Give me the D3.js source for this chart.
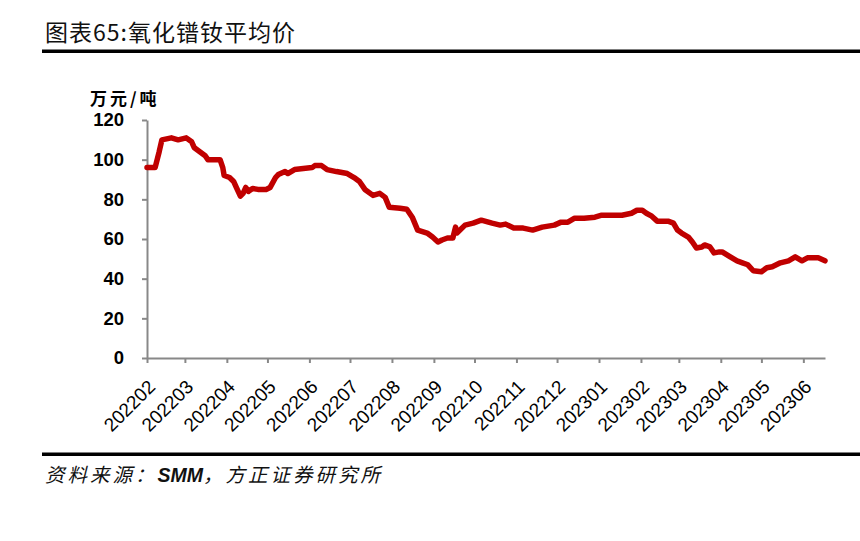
<!DOCTYPE html>
<html><head><meta charset="utf-8">
<script src="https://cdn.jsdelivr.net/npm/d3@7"></script>
<style>
html,body{margin:0;padding:0;background:#fff;}
svg{display:block;}
</style></head>
<body>
<svg id="c" width="860" height="541"></svg>
<script>
const titleText = "图表65:氧化镨钕平均价";
const unitText = "万元/吨";
const sourceParts = ["资料来源：", "SMM", "，方正证券研究所"];
const yTicks = [0, 20, 40, 60, 80, 100, 120];
const xTickMonths = ["2022-02-01","2022-03-01","2022-04-01","2022-05-01","2022-06-01","2022-07-01","2022-08-01","2022-09-01","2022-10-01","2022-11-01","2022-12-01","2023-01-01","2023-02-01","2023-03-01","2023-04-01","2023-05-01","2023-06-01"];
const dates = ["2022-02-01","2022-02-07","2022-02-10","2022-02-12","2022-02-19","2022-02-24","2022-03-02","2022-03-06","2022-03-08","2022-03-12","2022-03-16","2022-03-18","2022-03-27","2022-03-29","2022-03-30","2022-04-03","2022-04-06","2022-04-08","2022-04-11","2022-04-13","2022-04-15","2022-04-17","2022-04-20","2022-04-24","2022-04-30","2022-05-03","2022-05-07","2022-05-09","2022-05-14","2022-05-16","2022-05-21","2022-06-03","2022-06-05","2022-06-10","2022-06-14","2022-06-21","2022-06-29","2022-07-04","2022-07-08","2022-07-12","2022-07-18","2022-07-23","2022-07-27","2022-07-30","2022-08-07","2022-08-12","2022-08-16","2022-08-20","2022-08-27","2022-08-31","2022-09-04","2022-09-07","2022-09-11","2022-09-15","2022-09-17","2022-09-18","2022-09-24","2022-09-30","2022-10-06","2022-10-14","2022-10-20","2022-10-24","2022-10-30","2022-11-06","2022-11-13","2022-11-20","2022-11-29","2022-12-04","2022-12-09","2022-12-14","2022-12-21","2022-12-29","2023-01-03","2023-01-18","2023-01-25","2023-01-29","2023-02-02","2023-02-05","2023-02-09","2023-02-13","2023-02-21","2023-02-25","2023-02-28","2023-03-03","2023-03-08","2023-03-11","2023-03-14","2023-03-18","2023-03-20","2023-03-24","2023-03-27","2023-03-31","2023-04-02","2023-04-08","2023-04-13","2023-04-17","2023-04-21","2023-04-25","2023-05-01","2023-05-05","2023-05-09","2023-05-15","2023-05-21","2023-05-26","2023-05-31","2023-06-04","2023-06-12","2023-06-17"];
const prices = [96,96,104,110,111,110,111,109,106,104,102,100,100,96,92,91,89,86,81.6,83,86,84,85.5,85,85,86,91,92.5,94,93,95,96,97,97,95,94,93,91,89,85,82,83,81,76,75.5,75,71,64.5,63,61,58.5,59.5,60.5,60.5,66,63,67,68,69.5,68,67,67.5,65.5,65.5,64.5,66,67,68.5,68.5,70.5,70.5,71,72,72,73,74.5,74.5,73,71.5,69,69,68,64.5,63,61,58.5,55.5,56,57,56,53,53.5,53.5,51,49,48,47,44,43.5,45.5,46,48,49,51,49,50.5,50.5,49];
const xDomain = ["2022-02-01","2023-06-17"];

const parse = d3.timeParse("%Y-%m-%d");
const fmt = d3.timeFormat("%Y%m");
const data = dates.map((d,i)=>({date:parse(d), v:prices[i]}));

const svg = d3.select("#c");
const pLeft = 147, pRight = 825, pTop = 120, pBottom = 358;

// title
svg.append("text").attr("x",45).attr("y",41)
  .attr("font-family","'Noto Sans CJK SC'").attr("font-size",23).attr("letter-spacing",1).attr("fill","#111")
  .text(titleText);
svg.append("rect").attr("x",42).attr("y",49.5).attr("width",818).attr("height",3.5).attr("fill","#000");

// bottom rule and source
svg.append("rect").attr("x",42).attr("y",452.5).attr("width",818).attr("height",3.5).attr("fill","#000");
const src = svg.append("text").attr("x",45).attr("y",482)
  .attr("font-family","'Noto Sans CJK SC'").attr("font-size",19.5).attr("font-style","italic")
  .attr("letter-spacing",3).attr("fill","#111");
src.append("tspan").text(sourceParts[0]);
src.append("tspan").attr("font-family","'Liberation Sans', Arial, sans-serif").attr("font-weight","bold").attr("letter-spacing",0).text(sourceParts[1]);
src.append("tspan").text(sourceParts[2]);

const x = d3.scaleTime().domain(xDomain.map(parse)).range([pLeft, pRight]);
const y = d3.scaleLinear().domain([0,120]).range([pBottom, pTop]);

// y axis
const ya = svg.append("g").attr("transform",`translate(${pLeft},0)`)
  .call(d3.axisLeft(y).tickValues(yTicks).tickSize(5).tickSizeOuter(0).tickPadding(18));
ya.select(".domain").attr("stroke","#888").attr("stroke-width",2);
ya.selectAll(".tick line").attr("stroke","#888").attr("stroke-width",2);
ya.selectAll(".tick text").attr("font-family","'Liberation Sans', Arial, sans-serif")
  .attr("font-size",18.5).attr("font-weight","bold").attr("fill","#000");

// x axis
const xa = svg.append("g").attr("transform",`translate(0,${pBottom})`)
  .call(d3.axisBottom(x).tickValues(xTickMonths.map(parse)).tickFormat(fmt).tickSize(5).tickSizeOuter(0));
xa.select(".domain").attr("stroke","#888").attr("stroke-width",2);
xa.selectAll(".tick line").attr("stroke","#888").attr("stroke-width",2);
xa.selectAll(".tick text").attr("font-family","'Liberation Sans', Arial, sans-serif")
  .attr("font-size",19).attr("fill","#000")
  .attr("text-anchor","end").attr("dy",0).attr("y",0)
  .attr("transform","translate(9,30) rotate(-45)");

// unit
svg.append("text").attr("x",90).attr("y",105)
  .attr("font-family","'Noto Sans CJK SC'").attr("font-size",17).attr("font-weight","bold")
  .attr("letter-spacing",3).attr("fill","#000")
  .text(unitText);

// line
svg.append("path").datum(data)
  .attr("fill","none").attr("stroke","#c00000").attr("stroke-width",5.5)
  .attr("stroke-linejoin","round").attr("stroke-linecap","round")
  .attr("d", d3.line().x(d=>x(d.date)).y(d=>y(d.v)));
</script>
</body></html>
